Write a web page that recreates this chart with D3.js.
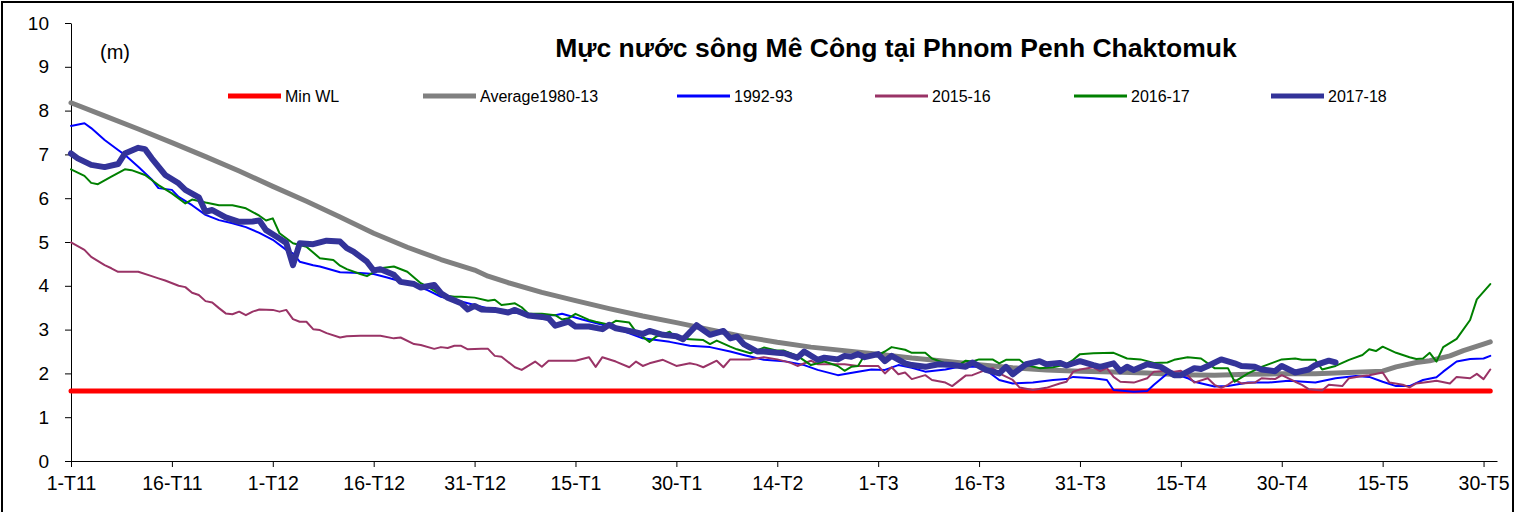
<!DOCTYPE html>
<html>
<head>
<meta charset="utf-8">
<script src="https://cdnjs.cloudflare.com/ajax/libs/d3/7.8.5/d3.min.js"></script>
<style>
	body { margin: 0; background: #fff; }
	svg text { font-family: Arial, "Liberation Sans", sans-serif; fill: #000; }
</style>
</head>
<body>
<div id="chart"></div>
<script>
// day index 0 = 1-T11, one step per day up to 31-T5
const DAY_COUNT = 212;
const tickDays = [0, 15, 30, 45, 60, 75, 90, 105, 120, 135, 150, 165, 180, 195, 210];
const tickLabels = ['1-T11', '16-T11', '1-T12', '16-T12', '31-T12', '15-T1', '30-T1', '14-T2', '1-T3', '16-T3', '31-T3', '15-T4', '30-T4', '15-T5', '30-T5'];
const yTicks = [0, 1, 2, 3, 4, 5, 6, 7, 8, 9, 10];

const minWL = 1.6;

// [day, water level (m)]
const average8013 = [[0,8.18],[5,7.88],[10,7.58],[15,7.27],[20,6.95],[25,6.62],[30,6.27],[35,5.93],[40,5.57],[45,5.2],[50,4.88],[55,4.6],[60,4.36],[62,4.22],[65,4.07],[70,3.85],[75,3.66],[80,3.48],[85,3.31],[90,3.16],[95,3.0],[100,2.84],[105,2.71],[110,2.6],[115,2.52],[120,2.44],[125,2.35],[130,2.28],[135,2.2],[140,2.13],[145,2.08],[150,2.05],[155,2.03],[160,2.01],[165,1.97],[170,1.96],[175,1.98],[180,1.99],[185,1.99],[190,2.02],[195,2.05],[197,2.15],[200,2.25],[202,2.29],[205,2.4],[207,2.52],[210,2.67],[211,2.72]];

const wl1992 = [[0,7.65],[2,7.71],[3,7.6],[5,7.33],[7,7.1],[8,6.99],[10,6.72],[12,6.43],[13,6.23],[15,6.19],[16,6.03],[18,5.84],[20,5.62],[22,5.5],[24,5.43],[26,5.34],[28,5.21],[30,5.05],[32,4.82],[33,4.74],[34,4.55],[36,4.47],[37,4.44],[40,4.31],[43,4.29],[45,4.27],[47,4.19],[50,4.06],[53,3.9],[55,3.75],[58,3.64],[61,3.52],[64,3.41],[67,3.37],[70,3.33],[72,3.33],[73,3.36],[76,3.23],[79,3.11],[82,2.97],[85,2.8],[89,2.72],[92,2.63],[95,2.6],[98,2.5],[100,2.42],[103,2.31],[106,2.28],[109,2.19],[111,2.08],[114,1.96],[117,2.04],[119,2.09],[121,2.08],[123,2.19],[125,2.13],[127,2.04],[130,2.09],[132,2.15],[135,2.15],[136,2.08],[138,1.85],[140,1.77],[143,1.79],[146,1.85],[148,1.87],[149,1.92],[152,1.89],[154,1.85],[155,1.62],[158,1.58],[160,1.6],[161,1.74],[163,2.0],[164,2.0],[166,1.89],[167,1.81],[170,1.7],[172,1.71],[175,1.79],[178,1.79],[181,1.83],[185,1.79],[188,1.89],[191,1.94],[193,1.92],[195,1.81],[197,1.71],[199,1.71],[201,1.85],[203,1.91],[204,2.04],[206,2.27],[208,2.33],[210,2.34],[211,2.4]];

const wl2015 = [[0,4.99],[2,4.82],[3,4.66],[5,4.47],[6,4.4],[7,4.32],[10,4.32],[12,4.22],[13,4.17],[14,4.12],[16,4.0],[17,3.97],[18,3.84],[19,3.79],[20,3.65],[21,3.62],[22,3.49],[23,3.37],[24,3.35],[25,3.41],[26,3.33],[27,3.41],[28,3.46],[30,3.45],[31,3.41],[32,3.45],[33,3.24],[34,3.18],[35,3.18],[36,3.01],[37,2.99],[38,2.92],[40,2.82],[41,2.85],[43,2.86],[46,2.86],[48,2.8],[49,2.82],[51,2.67],[52,2.65],[54,2.56],[55,2.6],[56,2.58],[57,2.63],[58,2.63],[59,2.55],[61,2.56],[62,2.56],[63,2.4],[64,2.38],[66,2.14],[67,2.08],[69,2.27],[70,2.15],[71,2.29],[74,2.29],[75,2.29],[77,2.37],[78,2.15],[79,2.37],[81,2.27],[83,2.14],[84,2.27],[85,2.17],[86,2.23],[88,2.31],[90,2.17],[92,2.23],[93,2.2],[94,2.14],[96,2.29],[97,2.14],[98,2.32],[101,2.32],[103,2.37],[105,2.32],[107,2.24],[108,2.17],[110,2.29],[111,2.21],[113,2.21],[115,2.21],[117,2.17],[119,2.17],[120,2.17],[121,2.0],[122,2.14],[123,1.98],[124,2.02],[125,1.87],[127,1.96],[128,1.85],[130,1.79],[131,1.71],[133,1.95],[134,1.96],[136,2.08],[137,2.12],[138,2.0],[140,1.85],[141,1.68],[143,1.62],[145,1.67],[147,1.77],[148,1.81],[149,2.04],[150,2.09],[152,2.14],[153,2.05],[154,2.12],[155,1.92],[156,1.81],[158,1.79],[160,1.89],[161,2.04],[163,2.06],[164,2.04],[165,2.06],[166,1.96],[167,1.79],[169,1.89],[170,1.74],[171,1.67],[172,1.74],[173,1.85],[174,1.77],[176,1.79],[177,1.89],[179,1.87],[180,1.96],[182,1.81],[183,1.74],[184,1.64],[186,1.61],[187,1.74],[189,1.71],[190,1.89],[192,1.94],[193,1.96],[195,2.02],[196,1.79],[198,1.74],[199,1.68],[200,1.77],[202,1.81],[203,1.83],[205,1.77],[206,1.92],[208,1.89],[209,1.99],[210,1.87],[211,2.09]];

const wl2016 = [[0,6.66],[2,6.51],[3,6.35],[4,6.32],[6,6.49],[8,6.66],[9,6.64],[11,6.53],[13,6.3],[15,6.11],[17,5.88],[18,5.97],[20,5.9],[22,5.84],[24,5.84],[26,5.77],[28,5.6],[29,5.49],[30,5.54],[31,5.2],[33,4.97],[35,4.89],[37,4.63],[39,4.59],[40,4.46],[41,4.38],[43,4.27],[44,4.22],[46,4.4],[48,4.44],[50,4.32],[52,4.06],[53,3.98],[55,3.79],[57,3.75],[58,3.75],[60,3.73],[62,3.66],[63,3.68],[64,3.56],[66,3.6],[67,3.51],[68,3.36],[70,3.36],[72,3.33],[73,3.23],[74,3.26],[75,3.36],[77,3.22],[78,3.18],[80,3.11],[81,3.2],[83,3.16],[84,2.95],[86,2.72],[87,2.84],[88,2.89],[89,2.95],[90,2.8],[92,2.78],[94,2.76],[95,2.67],[96,2.75],[98,2.61],[99,2.55],[101,2.46],[103,2.59],[105,2.52],[106,2.52],[108,2.4],[110,2.19],[112,2.27],[114,2.17],[115,2.06],[116,2.15],[117,2.17],[118,2.42],[120,2.42],[121,2.5],[122,2.6],[124,2.54],[125,2.47],[127,2.47],[128,2.34],[130,2.23],[132,2.19],[133,2.29],[134,2.27],[135,2.32],[137,2.32],[138,2.23],[139,2.31],[141,2.31],[142,2.19],[144,2.12],[146,2.14],[148,2.21],[149,2.31],[150,2.44],[152,2.46],[155,2.47],[157,2.34],[159,2.32],[161,2.24],[163,2.25],[164,2.31],[166,2.37],[168,2.34],[170,2.12],[172,2.12],[173,1.81],[175,2.0],[177,2.15],[180,2.32],[182,2.34],[183,2.31],[185,2.31],[186,2.09],[188,2.17],[190,2.31],[192,2.42],[193,2.55],[194,2.51],[195,2.61],[197,2.47],[199,2.37],[200,2.33],[201,2.34],[202,2.47],[203,2.27],[204,2.6],[206,2.79],[208,3.22],[209,3.69],[211,4.04]];

const wl2017 = [[0,7.02],[1,6.91],[3,6.76],[5,6.71],[7,6.78],[8,7.02],[10,7.15],[11,7.12],[12,6.91],[14,6.53],[16,6.34],[17,6.19],[19,6.02],[20,5.69],[21,5.73],[23,5.56],[25,5.46],[27,5.47],[28,5.49],[29,5.27],[31,5.08],[32,4.98],[33,4.47],[34,4.97],[36,4.95],[38,5.03],[40,5.01],[41,4.86],[42,4.78],[44,4.55],[45,4.35],[46,4.38],[48,4.25],[49,4.09],[51,4.04],[52,3.96],[54,4.02],[55,3.83],[56,3.73],[58,3.6],[59,3.46],[60,3.54],[61,3.46],[63,3.45],[65,3.39],[66,3.45],[68,3.32],[70,3.29],[71,3.26],[72,3.09],[74,3.18],[75,3.07],[77,3.07],[79,3.01],[80,3.11],[81,3.03],[83,2.97],[85,2.9],[86,2.97],[88,2.88],[90,2.85],[91,2.78],[93,3.1],[95,2.88],[97,2.97],[98,2.8],[99,2.84],[100,2.67],[102,2.5],[103,2.5],[105,2.47],[106,2.46],[108,2.36],[109,2.5],[111,2.31],[112,2.36],[114,2.32],[115,2.4],[116,2.38],[117,2.44],[118,2.37],[120,2.44],[121,2.28],[122,2.4],[124,2.23],[125,2.19],[127,2.15],[129,2.21],[131,2.19],[133,2.15],[134,2.25],[136,2.08],[138,2.0],[139,2.15],[140,1.98],[142,2.21],[144,2.28],[145,2.21],[147,2.24],[148,2.18],[150,2.28],[152,2.19],[153,2.15],[155,2.23],[156,2.05],[157,2.15],[158,2.08],[160,2.21],[162,2.15],[164,1.96],[165,1.96],[167,2.12],[168,2.1],[169,2.17],[171,2.32],[173,2.23],[174,2.17],[176,2.15],[177,2.09],[179,2.05],[180,2.17],[182,2.02],[184,2.09],[185,2.19],[187,2.29],[188,2.25]];

const seriesNames = ['Min WL', 'Average1980-13', '1992-93', '2015-16', '2016-17', '2017-18'];
const seriesColors = ['#ff0000', '#808080', '#0000ff', '#993366', '#008000', '#333399'];
const seriesWidths = [5, 5, 2, 2, 2, 6];

const W = 1515, H = 512;
const MARGIN = { TOP: 23, LEFT: 71, BOTTOM: 51, RIGHT: 18 };

var svg = d3.select('#chart').append('svg')
	.attr('width', W)
	.attr('height', H);

// outer frame of the chart area
svg.append('rect')
	.attr('x', 2).attr('y', 2)
	.attr('width', W - 4).attr('height', H + 10)
	.attr('fill', 'none')
	.attr('stroke', '#000')
	.attr('stroke-width', 2);

var x = d3.scaleLinear().domain([0, DAY_COUNT]).range([MARGIN.LEFT, W - MARGIN.RIGHT]);
var y = d3.scaleLinear().domain([0, 10]).range([H - MARGIN.BOTTOM, MARGIN.TOP]);

var xAxis = d3.axisBottom(x)
	.tickValues(tickDays)
	.tickFormat(function (d, i) { return tickLabels[i]; })
	.tickSize(6).tickSizeOuter(0).tickPadding(9);
var yAxis = d3.axisLeft(y)
	.tickValues(yTicks)
	.tickFormat(d3.format('d'))
	.tickSize(6).tickSizeOuter(0).tickPadding(16);

svg.append('g')
	.attr('class', 'x axis')
	.attr('transform', 'translate(0,' + y(0) + ')')
	.call(xAxis);
svg.append('g')
	.attr('class', 'y axis')
	.attr('transform', 'translate(' + x(0) + ',0)')
	.call(yAxis);

svg.selectAll('.axis path, .axis line').attr('stroke', '#000').attr('stroke-width', 1);
svg.selectAll('.x.axis text').style('font-size', '19.5px').attr('fill', '#000');
svg.selectAll('.y.axis text').style('font-size', '19px').attr('fill', '#000');

var line = d3.line()
	.x(function (d) { return x(d[0]); })
	.y(function (d) { return y(d[1]); });

var seriesData = [
	[[0, minWL], [DAY_COUNT - 1, minWL]],
	average8013, wl1992, wl2015, wl2016, wl2017
];

seriesData.forEach(function (data, i) {
	svg.append('path')
		.datum(data)
		.attr('d', line)
		.attr('fill', 'none')
		.attr('stroke', seriesColors[i])
		.attr('stroke-width', seriesWidths[i])
		.attr('stroke-linejoin', 'round')
		.attr('stroke-linecap', 'round');
});

// title and unit
svg.append('text')
	.attr('x', 896).attr('y', 57)
	.attr('text-anchor', 'middle')
	.style('font-size', '26.5px')
	.style('font-weight', 'bold')
	.text('Mực nước sông Mê Công tại Phnom Penh Chaktomuk');

svg.append('text')
	.attr('x', 100).attr('y', 59)
	.style('font-size', '20px')
	.text('(m)');

// legend
var legendX = [228, 423, 677, 875, 1074, 1271];
var legend = svg.append('g').attr('class', 'legend');
seriesNames.forEach(function (name, i) {
	var g = legend.append('g').attr('transform', 'translate(' + legendX[i] + ',96)');
	g.append('line')
		.attr('x1', 0).attr('x2', 53)
		.attr('stroke', seriesColors[i])
		.attr('stroke-width', seriesWidths[i] === 2 ? 3 : 5);
	g.append('text')
		.attr('x', 57).attr('y', 5.5)
		.style('font-size', '16px')
		.text(name);
});
</script>
</body>
</html>
